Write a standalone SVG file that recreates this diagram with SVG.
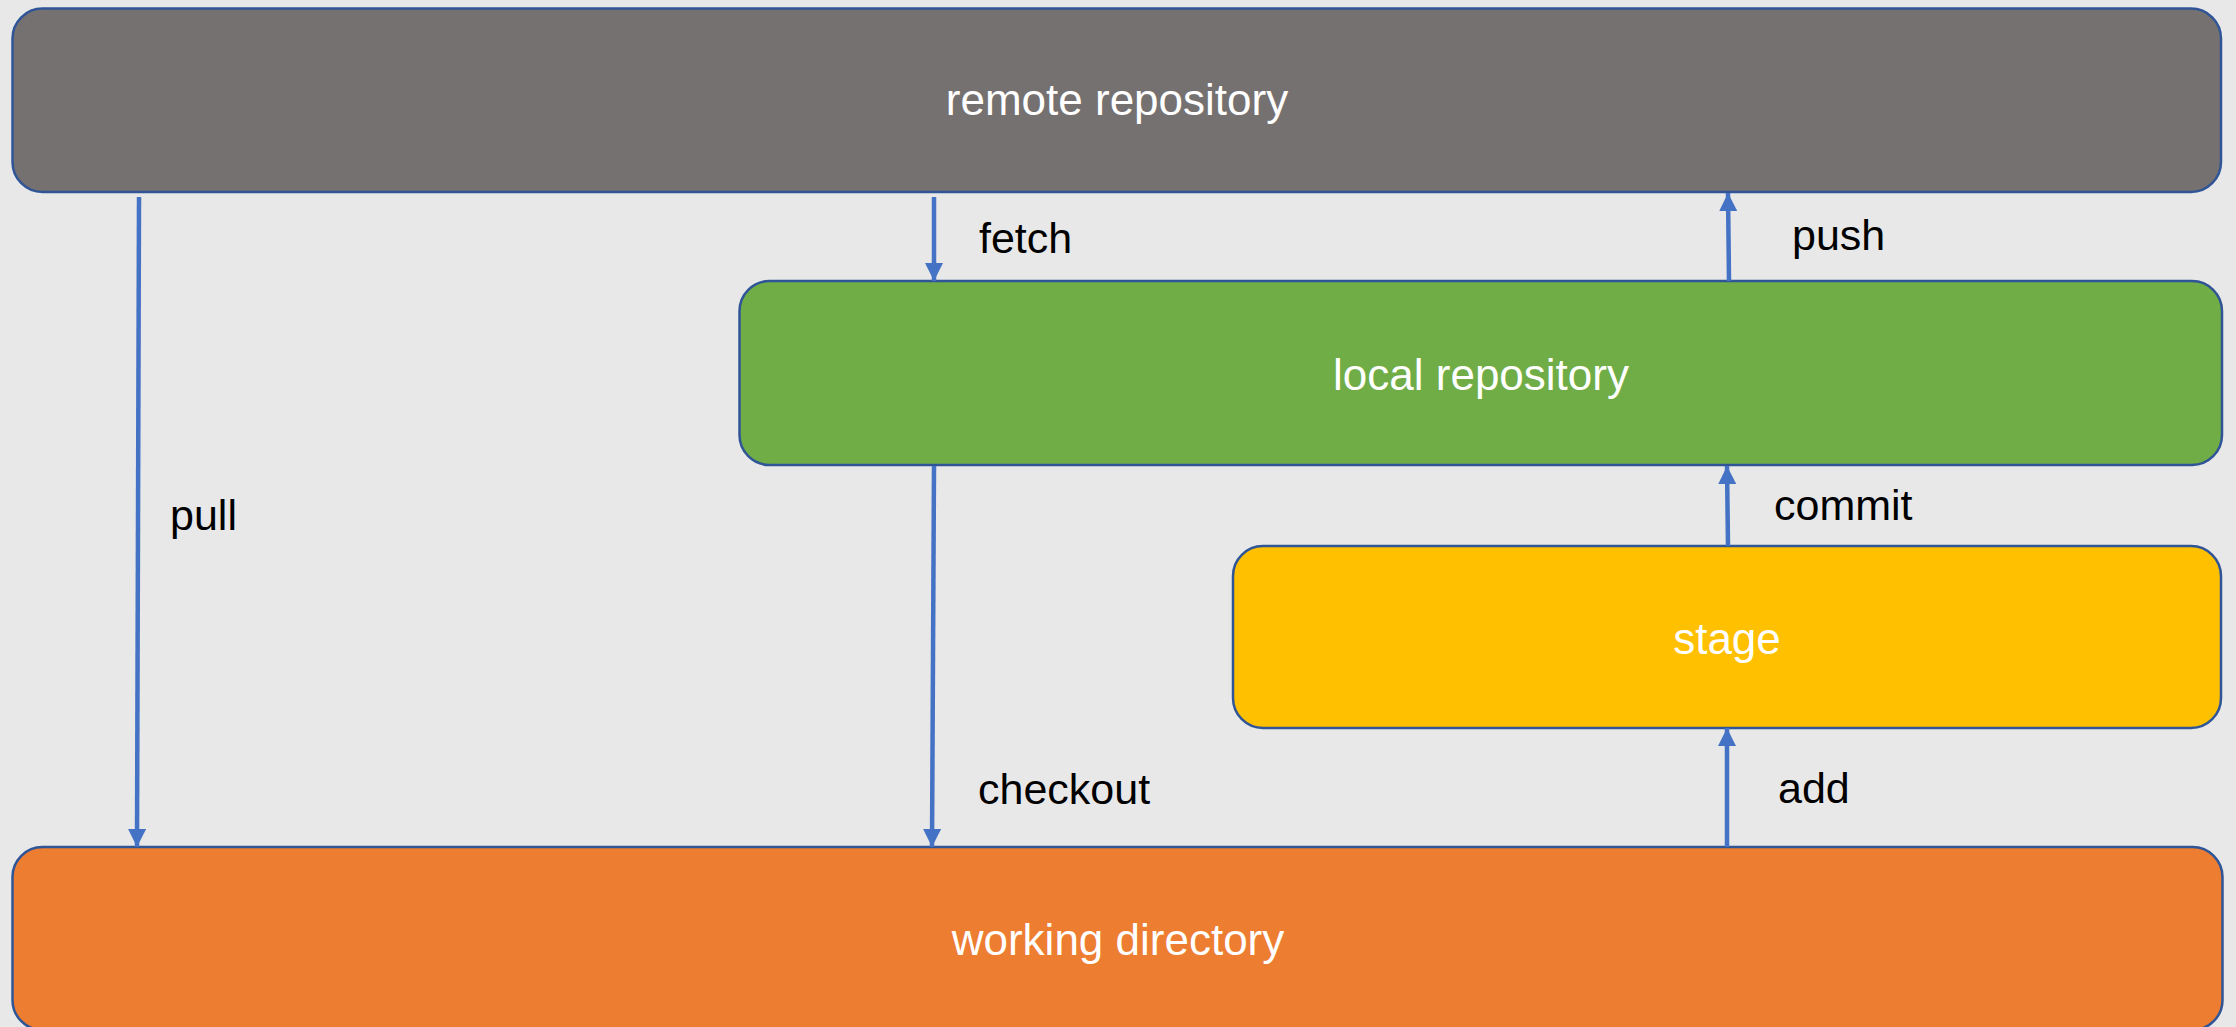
<svg xmlns="http://www.w3.org/2000/svg" width="2236" height="1027" viewBox="0 0 2236 1027">
<style>
.box{stroke:#2F5597;stroke-width:2.5}
.lbl{font-family:"Liberation Sans",Arial,sans-serif;font-size:44px;fill:#FFFFFF;text-anchor:middle}
.edge{font-family:"Liberation Sans",Arial,sans-serif;font-size:43px;fill:#000000}
.conn{stroke:#4472C4;stroke-width:4.5;fill:none;marker-end:url(#ah)}
</style>
<defs>
<marker id="ah" markerUnits="userSpaceOnUse" markerWidth="18" markerHeight="18" viewBox="0 0 18 18" refX="18" refY="9" orient="auto">
<path d="M0,0 L18,9 L0,18 Z" fill="#4472C4"/>
</marker>
</defs>
<rect x="0" y="0" width="2236" height="1027" fill="#E8E8E8"/>
<g id="remote">
<rect class="box" x="12.5" y="8.5" width="2208.5" height="183.5" rx="30" fill="#767171"/>
<text class="lbl" x="1117" y="115">remote repository</text>
</g>
<g id="local">
<rect class="box" x="739.5" y="281" width="1482.5" height="184" rx="30" fill="#70AD47"/>
<text class="lbl" x="1481" y="390">local repository</text>
</g>
<g id="stage">
<rect class="box" x="1233" y="546" width="988" height="182" rx="30" fill="#FFC000"/>
<text class="lbl" x="1727" y="654">stage</text>
</g>
<g id="working">
<rect class="box" x="12.5" y="847" width="2210" height="183" rx="30" fill="#ED7D31"/>
<text class="lbl" x="1118" y="955">working directory</text>
</g>
<g id="connectors">
<path class="conn" d="M139,197 L137,847"/>
<path class="conn" d="M934,197 L934,281"/>
<path class="conn" d="M934,466 L932,847"/>
<path class="conn" d="M1729,281 L1728,193"/>
<path class="conn" d="M1728,546 L1727,466"/>
<path class="conn" d="M1727,847 L1727,728"/>
<text class="edge" x="170" y="530">pull</text>
<text class="edge" x="979" y="253">fetch</text>
<text class="edge" x="1792" y="250">push</text>
<text class="edge" x="1774" y="520">commit</text>
<text class="edge" x="978" y="804">checkout</text>
<text class="edge" x="1778" y="803">add</text>
</g>
</svg>
